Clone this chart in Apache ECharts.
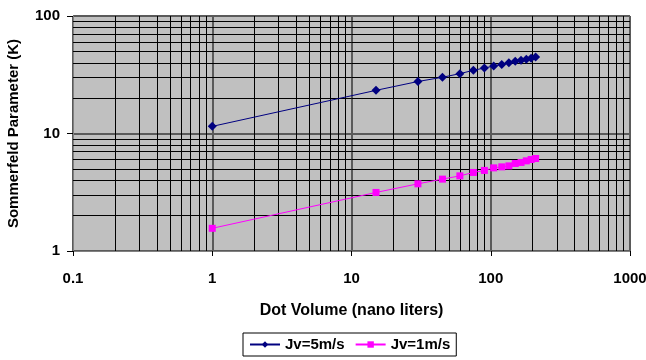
<!DOCTYPE html>
<html>
<head>
<meta charset="utf-8">
<script src="https://cdn.jsdelivr.net/npm/echarts@6/dist/echarts.min.js"></script>
<style>html,body{margin:0;padding:0;background:#fff}#c{width:646px;height:360px}</style>
</head>
<body>
<div id="c"></div>
<script>
const volumes = [1, 15, 30, 45, 60, 75, 90, 105, 120, 135, 150, 165, 180, 195, 210];
const jv5 = [11.5, 23.3, 27.7, 30.1, 32.3, 34.5, 36.1, 37.5, 38.6, 40.1, 41.1, 42.0, 42.8, 43.6, 44.8];
const jv1 = [1.56, 3.15, 3.73, 4.09, 4.36, 4.66, 4.85, 5.10, 5.20, 5.30, 5.56, 5.67, 5.85, 6.01, 6.13];
const seriesNames = ['Jv=5m/s', 'Jv=1m/s'];
const minorX = [0.2,0.3,0.4,0.5,0.6,0.7,0.8,0.9,2,3,4,5,6,7,8,9,20,30,40,50,60,70,80,90,200,300,400,500,600,700,800,900];
const minorY = [2,3,4,5,6,7,8,9,20,30,40,50,60,70,80,90];

const chart = echarts.init(document.getElementById('c'));
const font = '"Liberation Sans", Arial, sans-serif';
const toPairs = (ys) => volumes.map((v, i) => [v, ys[i]]);
const gridLines = minorX.map(v => ({xAxis: v})).concat(minorY.map(v => ({yAxis: v})));
const fmt = (v) => String(v);

chart.setOption({
  animation: false,
  grid: {left: 73, right: 16, top: 16, bottom: 109, containLabel: false, outerBoundsMode: 'none',
    show: true, backgroundColor: '#c0c0c0', borderColor: '#808080', borderWidth: 1},
  xAxis: {
    type: 'log', logBase: 10, min: 0.1, max: 1000,
    name: 'Dot Volume (nano liters)', nameLocation: 'middle', nameGap: 52,
    nameTextStyle: {fontFamily: font, fontWeight: 700, fontSize: 16, color: '#000'},
    axisLine: {show: true, lineStyle: {color: '#808080'}},
    axisTick: {show: true, length: 5, lineStyle: {color: '#000'}},
    axisLabel: {fontFamily: font, fontWeight: 700, fontSize: 15, color: '#000', margin: 20, formatter: fmt},
    splitLine: {show: true, lineStyle: {color: '#5a5a5a', width: 2}}
  },
  yAxis: {
    type: 'log', logBase: 10, min: 1, max: 100,
    name: 'Sommerfeld Parameter (K)', nameLocation: 'middle', nameGap: 52,
    nameTextStyle: {fontFamily: font, fontWeight: 700, fontSize: 15, color: '#000'},
    axisLine: {show: true, lineStyle: {color: '#808080'}},
    axisTick: {show: true, length: 6, lineStyle: {color: '#000'}},
    axisLabel: {fontFamily: font, fontWeight: 700, fontSize: 15, color: '#000', margin: 13, formatter: fmt},
    splitLine: {show: true, lineStyle: {color: '#5a5a5a', width: 2}}
  },
  legend: {
    data: seriesNames, left: 243, top: 333,
    borderColor: '#000', borderWidth: 1, borderRadius: 0, padding: [4, 6],
    itemWidth: 30, itemHeight: 8, itemGap: 10,
    textStyle: {fontFamily: font, fontWeight: 700, fontSize: 15, color: '#000'}
  },
  series: [
    {
      type: 'line', name: '_grid', data: [], z: 1, silent: true,
      markLine: {silent: true, symbol: 'none', label: {show: false}, animation: false,
        lineStyle: {color: '#000', width: 1, type: 'solid'}, emphasis: {disabled: true}, data: gridLines}
    },
    {
      type: 'line', name: seriesNames[0], data: toPairs(jv5), z: 5,
      symbol: 'diamond', symbolSize: 9, color: '#000080',
      lineStyle: {color: '#000080', width: 1}, itemStyle: {color: '#000080'}
    },
    {
      type: 'line', name: seriesNames[1], data: toPairs(jv1), z: 5,
      symbol: 'rect', symbolSize: 7, color: '#ff00ff',
      lineStyle: {color: '#ff00ff', width: 1}, itemStyle: {color: '#ff00ff'}
    }
  ]
});
</script>
</body>
</html>
